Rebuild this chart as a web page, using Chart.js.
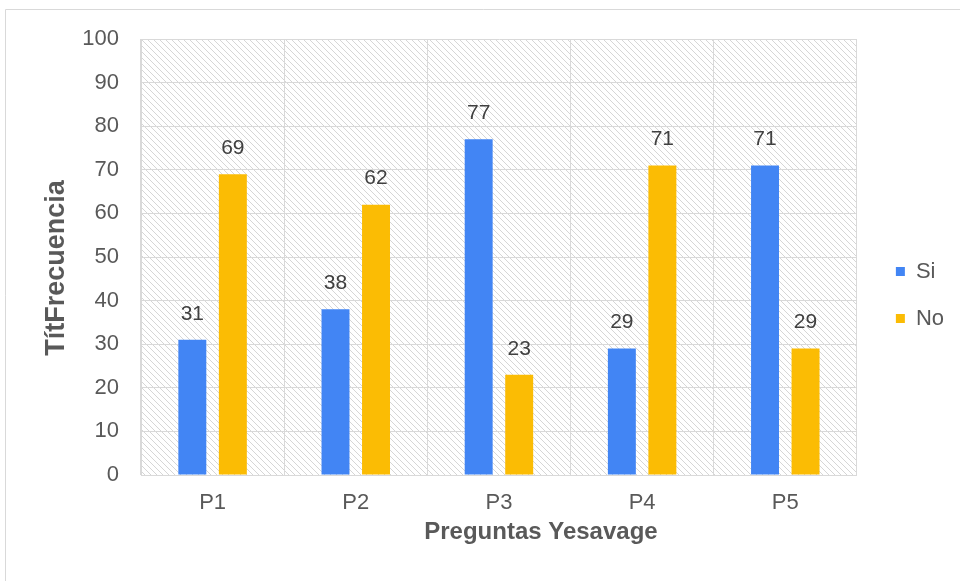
<!DOCTYPE html>
<html>
<head>
<meta charset="utf-8">
<script src="https://cdn.jsdelivr.net/npm/chart.js@4"></script>
<style>
    html, body { margin: 0; padding: 0; background: #fff; }
    #wrap { width: 960px; height: 581px; }
</style>
</head>
<body>
<div id="wrap"><canvas id="grafica" width="960" height="581"></canvas></div>
<script>
const preguntas = ["P1", "P2", "P3", "P4", "P5"];
const valoresSi = [31, 38, 77, 29, 71];
const valoresNo = [69, 62, 23, 71, 29];
const etiquetasY = [0, 10, 20, 30, 40, 50, 60, 70, 80, 90, 100];

const GRIS = "#d9d9d9";
const TEXTO = "#595959";
const FAMILIA = "'Liberation Sans', Arial, sans-serif";

// trama diagonal del fondo del area de trazado
function crearTrama() {
    const c = document.createElement("canvas");
    c.width = 6; c.height = 6;
    const g = c.getContext("2d");
    g.strokeStyle = "#d6d6d6";
    g.lineWidth = 1;
    g.beginPath();
    g.moveTo(-1, -1); g.lineTo(7, 7);
    g.moveTo(-4, 2); g.lineTo(2, 8);
    g.moveTo(4, -2); g.lineTo(8, 2);
    g.stroke();
    return c;
}

// desplaza el titulo del eje (en el original no esta centrado)
function moverTitulo(escala, dx, dy) {
    if (escala._tituloMovido) return;
    const original = escala.drawTitle;
    escala.drawTitle = function () {
        this.ctx.save();
        this.ctx.translate(dx, dy);
        original.apply(this, arguments);
        this.ctx.restore();
    };
    escala._tituloMovido = true;
}

const fondo = {
    id: "fondo",
    beforeDraw(chart) {
        const { ctx, chartArea: a } = chart;
        ctx.save();
        ctx.strokeStyle = GRIS;
        ctx.lineWidth = 1;
        ctx.beginPath();
        ctx.moveTo(5.5, 600); ctx.lineTo(5.5, 9.5); ctx.lineTo(970, 9.5);
        ctx.stroke();
        ctx.fillStyle = ctx.createPattern(crearTrama(), "repeat");
        ctx.fillRect(a.left, a.top, a.right - a.left, a.bottom - a.top);
        ctx.restore();
    },
    afterLayout(chart) {
        // mover la leyenda a la derecha
        chart.legend.left += 14;
        chart.legend.right += 14;
        moverTitulo(chart.scales.x, 42, 0);
        moverTitulo(chart.scales.y, 0, 11);
    }
};

const etiquetas = {
    id: "etiquetas",
    afterDatasetsDraw(chart) {
        const ctx = chart.ctx;
        ctx.save();
        ctx.font = "21px " + FAMILIA;
        ctx.fillStyle = "#404040";
        ctx.textAlign = "center";
        ctx.textBaseline = "middle";
        chart.data.datasets.forEach((ds, i) => {
            chart.getDatasetMeta(i).data.forEach((bar, j) => {
                ctx.fillText(ds.data[j], bar.x, bar.y - 26);
            });
        });
        ctx.restore();
    }
};

const fuente = { family: FAMILIA, size: 22 };

new Chart(document.getElementById("grafica").getContext("2d"), {
    type: "bar",
    data: {
        labels: preguntas,
        datasets: [
            { label: "Si", data: valoresSi, backgroundColor: "#4285F4" },
            { label: "No", data: valoresNo, backgroundColor: "#FBBC04" }
        ]
    },
    options: {
        responsive: false,
        animation: false,
        devicePixelRatio: 1,
        layout: { padding: { left: 40, top: 39, right: 20, bottom: 30 } },
        datasets: { bar: { categoryPercentage: 0.566, barPercentage: 0.69 } },
        plugins: {
            legend: {
                position: "right",
                labels: { boxWidth: 9, boxHeight: 9, padding: 25, color: TEXTO, font: fuente }
            },
            tooltip: { enabled: false }
        },
        scales: {
            x: {
                grid: { color: GRIS, drawTicks: false },
                border: { color: GRIS },
                ticks: { color: TEXTO, font: fuente, padding: 15 },
                title: { display: true, text: "Preguntas Yesavage", color: TEXTO,
                         font: { family: FAMILIA, size: 24, weight: "bold" }, padding: { top: 0, bottom: 4 } },
                afterFit: s => { s.height = 76; }
            },
            y: {
                min: 0, max: 100,
                afterBuildTicks: s => { s.ticks = etiquetasY.map(v => ({ value: v })); },
                grid: { color: GRIS, drawTicks: false },
                border: { color: GRIS },
                ticks: { color: TEXTO, font: fuente, padding: 22 },
                title: { display: true, text: "TítFrecuencia", color: TEXTO,
                         font: { family: FAMILIA, size: 27, weight: "bold" }, padding: { top: 0, bottom: 0 } },
                afterFit: s => { s.width = 101; }
            }
        }
    },
    plugins: [fondo, etiquetas]
});
</script>
</body>
</html>
